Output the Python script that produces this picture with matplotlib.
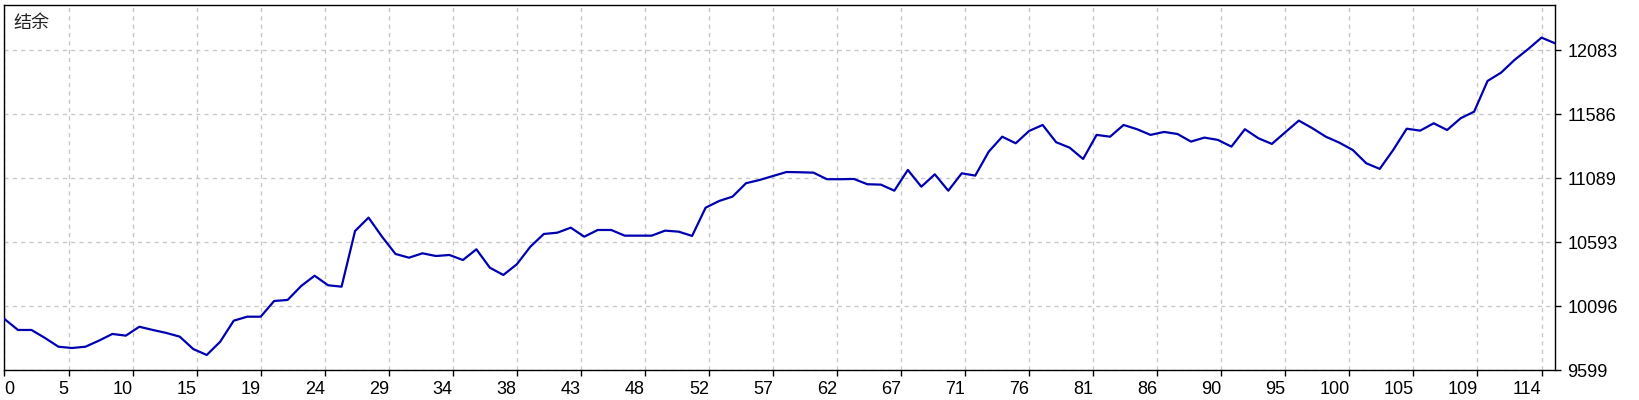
import numpy as np
import matplotlib
matplotlib.use('Agg')
import matplotlib.pyplot as plt

plt.rcParams['font.family'] = ['Liberation Sans', 'DejaVu Sans']

# Balance curve (结余), one value per trade
balance = [
    9997, 9912, 9912, 9850, 9782, 9772, 9782, 9829, 9881, 9868,
    9937, 9912, 9889, 9860, 9764, 9718, 9821, 9984, 10015, 10015,
    10137, 10145, 10253, 10333, 10259, 10248, 10680, 10784, 10636, 10502,
    10473, 10507, 10486, 10494, 10455, 10538, 10395, 10339, 10422, 10558,
    10657, 10667, 10706, 10636, 10688, 10688, 10644, 10644, 10644, 10683,
    10675, 10642, 10861, 10913, 10947, 11051, 11076, 11107, 11138, 11136,
    11133, 11082, 11082, 11084, 11043, 11040, 10993, 11154, 11024, 11120,
    10993, 11128, 11110, 11296, 11412, 11361, 11457, 11503, 11369, 11327,
    11239, 11426, 11412, 11503, 11470, 11426, 11449, 11433, 11374, 11405,
    11387, 11335, 11470, 11400, 11356, 11447, 11537, 11478, 11412, 11366,
    11309, 11206, 11162, 11309, 11474, 11459, 11516, 11464, 11555, 11606,
    11845, 11909, 12008, 12091, 12181, 12137,
]

x_labels = ['0', '5', '10', '15', '19', '24', '29', '34', '38', '43', '48', '52',
            '57', '62', '67', '71', '76', '81', '86', '90', '95', '100', '105',
            '109', '114']
y_ticks = [9599, 10096, 10593, 11089, 11586, 12083]
y_top = 12438

fig = plt.figure(figsize=(16.4, 4.0), dpi=100)
ax = fig.add_axes([4.5 / 1640, 29.7 / 400, 1550.5 / 1640, 365.8 / 400])

idx = np.arange(len(balance))
ax.plot(idx, balance, color='#0000b0', lw=1.6, zorder=3)

ax.set_xlim(0, len(balance) - 1)
ax.set_ylim(y_ticks[0], y_top)

# grid every 64 px -> 114/24 trades
x_pos = [k * 114 / 24 for k in range(len(x_labels))]
ax.set_xticks(x_pos)
ax.set_xticklabels(x_labels, fontsize=13)
for i, lab in enumerate(ax.get_xticklabels()):
    lab.set_horizontalalignment('left' if i == 0 else 'right')
ax.set_yticks(y_ticks)
ax.set_yticklabels([str(v) for v in y_ticks], fontsize=13)

ax.yaxis.tick_right()
ax.tick_params(axis='x', direction='out', length=4, width=1, pad=4)
ax.tick_params(axis='y', direction='out', length=4, width=1, pad=5)

ax.grid(True, color='#c8c8c8', linestyle=(0, (3, 3)), lw=1)
for s in ax.spines.values():
    s.set_color('black')
    s.set_linewidth(1)

ax.text(0.006, 0.975, '结余', transform=ax.transAxes, ha='left', va='top',
        fontsize=13, color='#222222', family=['Noto Sans CJK SC', 'DejaVu Sans'])

fig.savefig('out.png', dpi=100)
